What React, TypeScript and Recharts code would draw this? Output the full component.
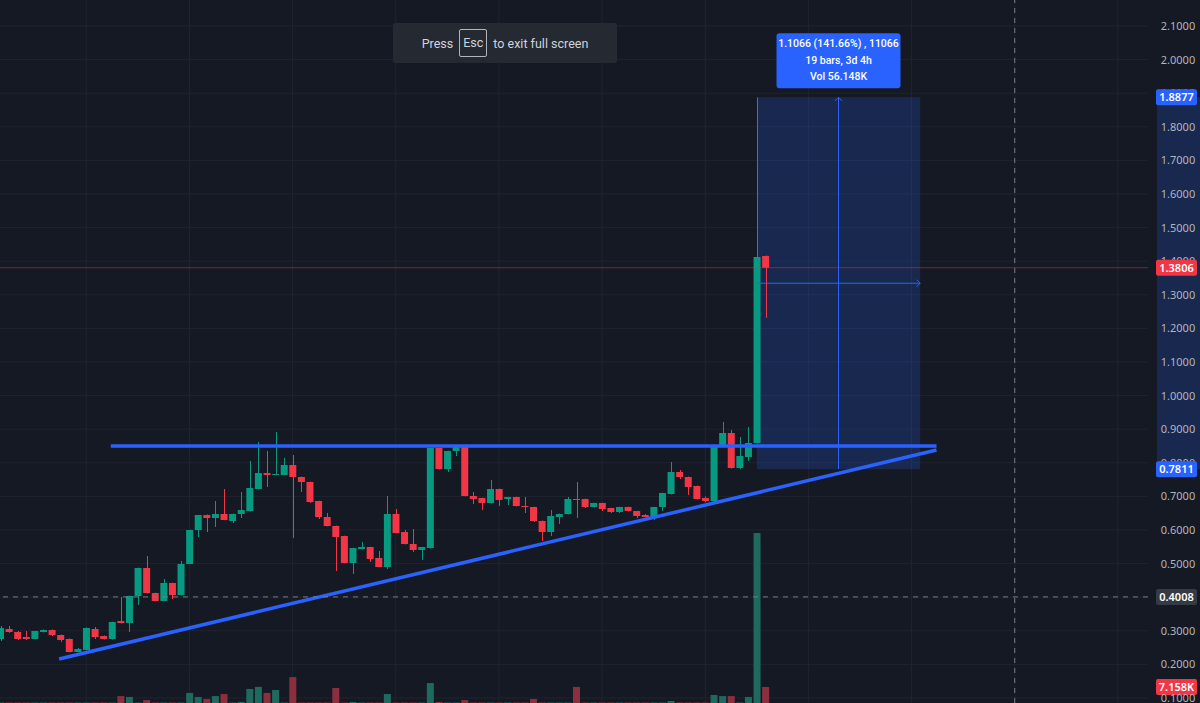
import React from 'react';
import { ComposedChart, Bar, XAxis, YAxis, CartesianGrid, ReferenceLine, ReferenceArea, Cell } from 'recharts';

// 4h candles, index 0..89
const opens = [
  0.2756, 0.3054, 0.2964, 0.2815, 0.2756, 0.2964, 0.3024, 0.2875, 0.2756, 0.2369,
  0.2429, 0.3054, 0.2845, 0.2756, 0.3292, 0.3232, 0.4036, 0.4869, 0.4125, 0.3887,
  0.4423, 0.4065, 0.4988, 0.6000, 0.6446, 0.6357, 0.6476, 0.6268, 0.6476, 0.6565,
  0.7220, 0.7696, 0.7637, 0.7637, 0.7935, 0.7577, 0.7429, 0.6863, 0.6387, 0.6119,
  0.5821, 0.5018, 0.5435, 0.5494, 0.5167, 0.4899, 0.6476, 0.5940, 0.5583, 0.5405,
  0.5464, 0.8440, 0.7815, 0.8351, 0.8530, 0.7012, 0.6952, 0.6804, 0.7220, 0.6923,
  0.6982, 0.6714, 0.6685, 0.6268, 0.5940, 0.6387, 0.6476, 0.6923, 0.6923, 0.6685,
  0.6804, 0.6655, 0.6536, 0.6685, 0.6565, 0.6446, 0.6387, 0.6685, 0.7071, 0.7726,
  0.7577, 0.7310, 0.6952, 0.6863, 0.8530, 0.8887, 0.7845, 0.8173, 0.8589, 1.4155,
];
const highs = [
  0.3143, 0.3143, 0.2994, 0.2994, 0.3000, 0.3040, 0.3040, 0.2890, 0.2770, 0.2488,
  0.3100, 0.3113, 0.2860, 0.3270, 0.4006, 0.4050, 0.4880, 0.5226, 0.4135, 0.4542,
  0.4430, 0.5077, 0.6010, 0.6450, 0.6460, 0.6863, 0.7220, 0.6490, 0.7131, 0.8054,
  0.8619, 0.8351, 0.8917, 0.8143, 0.8232, 0.7590, 0.7440, 0.6870, 0.6506, 0.6130,
  0.5830, 0.5470, 0.5643, 0.5500, 0.5375, 0.7012, 0.6625, 0.6000, 0.6030, 0.5500,
  0.8450, 0.8450, 0.8360, 0.8480, 0.8540, 0.7131, 0.6960, 0.7488, 0.7230, 0.6990,
  0.6990, 0.6982, 0.6690, 0.6280, 0.6595, 0.6490, 0.6982, 0.7429, 0.6930, 0.6810,
  0.6810, 0.6660, 0.6690, 0.6690, 0.6570, 0.6470, 0.6690, 0.7110, 0.8024, 0.7786,
  0.7590, 0.7320, 0.7000, 0.8540, 0.9214, 0.8976, 0.8768, 0.9065, 1.8877, 1.4170,
];
const lows = [
  0.2696, 0.2935, 0.2726, 0.2726, 0.2750, 0.2950, 0.2845, 0.2667, 0.2360, 0.2360,
  0.2420, 0.2756, 0.2740, 0.2740, 0.3220, 0.2964, 0.3768, 0.4110, 0.3880, 0.3880,
  0.3946, 0.4050, 0.4980, 0.5792, 0.5940, 0.6089, 0.6290, 0.6208, 0.6357, 0.6550,
  0.7210, 0.7280, 0.7630, 0.7630, 0.5762, 0.7131, 0.6804, 0.6327, 0.6110, 0.4780,
  0.5010, 0.4690, 0.5420, 0.5048, 0.4890, 0.4839, 0.5900, 0.5570, 0.5345, 0.5107,
  0.5450, 0.7800, 0.7726, 0.8202, 0.7000, 0.6774, 0.6595, 0.6790, 0.6714, 0.6744,
  0.6700, 0.6506, 0.6238, 0.5673, 0.5821, 0.6179, 0.6460, 0.6357, 0.6655, 0.6670,
  0.6565, 0.6506, 0.6506, 0.6550, 0.6357, 0.6380, 0.6298, 0.6565, 0.7060, 0.7518,
  0.7042, 0.6910, 0.6830, 0.6850, 0.8520, 0.7830, 0.7811, 0.8054, 0.8580, 1.2310,
];
const closes = [
  0.3083, 0.2964, 0.2756, 0.2756, 0.2994, 0.3024, 0.2875, 0.2726, 0.2369, 0.2458,
  0.3083, 0.2815, 0.2756, 0.3262, 0.3232, 0.4036, 0.4869, 0.4125, 0.3887, 0.4423,
  0.4065, 0.4988, 0.6000, 0.6446, 0.6357, 0.6476, 0.6298, 0.6476, 0.6595, 0.7250,
  0.7696, 0.7637, 0.7667, 0.7935, 0.7577, 0.7429, 0.6833, 0.6387, 0.6119, 0.5792,
  0.5018, 0.5464, 0.5494, 0.5137, 0.4899, 0.6476, 0.5911, 0.5583, 0.5405, 0.5494,
  0.8440, 0.7815, 0.8351, 0.8470, 0.7012, 0.6923, 0.6804, 0.7220, 0.6893, 0.6982,
  0.6714, 0.6685, 0.6268, 0.5940, 0.6417, 0.6476, 0.6923, 0.6893, 0.6685, 0.6804,
  0.6625, 0.6536, 0.6685, 0.6565, 0.6417, 0.6387, 0.6685, 0.7101, 0.7726, 0.7577,
  0.7280, 0.6923, 0.6863, 0.8530, 0.8887, 0.7845, 0.8202, 0.8589, 1.4125, 1.3806,
];
// volume in K
const volumes = [
  0.2, 0.2, 0.2, 0.2, 0.2, 0.2, 0.2, 0.2, 0.2, 0.2,
  0.2, 0.2, 0.2, 0.2, 3.1, 2.7, 0.2, 1.3, 0.2, 0.2,
  0.2, 0.2, 4.5, 2.7, 1.8, 3.1, 4.0, 0.2, 0.5, 6.3,
  7.2, 4.5, 5.8, 0.2, 11.6, 0.2, 0.2, 0.2, 0.2, 6.7,
  0.2, 0.5, 0.2, 0.2, 0.2, 4.0, 0.2, 0.2, 0.2, 0.2,
  8.9, 0.5, 0.2, 0.2, 1.3, 0.2, 0.2, 0.2, 0.2, 0.2,
  0.2, 0.2, 1.8, 0.2, 0.2, 0.2, 0.2, 7.2, 0.2, 0.2,
  0.2, 0.2, 0.2, 0.2, 0.2, 0.2, 0.2, 0.2, 0.9, 0.2,
  0.2, 0.2, 0.2, 3.6, 3.1, 3.1, 0.2, 2.7, 76.0, 7.158,
];

const priceTicks = [0.1, 0.2, 0.3, 0.4, 0.5, 0.6, 0.7, 0.8, 0.9, 1.0, 1.1, 1.2, 1.3, 1.4, 1.5, 1.6, 1.7, 1.8, 1.9, 2.0, 2.1];
// price tags drawn on the axis, on top of the plain tick labels
const tagValues = [1.8877, 1.3806, 0.7811, 0.4008];
const tagColors = ['#2962ff', '#f23645', '#2962ff', '#363a45'];
const gridBars = [10, 22, 34, 46, 58, 70, 82, 94, 106, 118, 130];

const SLOTS = 134;
const BG = '#151924';
const UP = '#089981';
const DOWN = '#f23645';
const BLUE = '#2962ff';
const FONT = '"Noto Sans", "DejaVu Sans", sans-serif';
const UI_FONT = 'Roboto, "Noto Sans", sans-serif';

const data = Array.from({ length: SLOTS }, (_, i) =>
  i < opens.length
    ? { i, o: opens[i], h: highs[i], l: lows[i], c: closes[i], range: [lows[i], highs[i]], vol: volumes[i] }
    : { i, o: null, h: null, l: null, c: null, range: null, vol: null }
);

function Candle(props: any) {
  const { x, y, width, height, payload } = props;
  if (!payload || payload.o == null) return null;
  const { o, h, l, c } = payload;
  const top = Math.min(y, y + height);
  const span = Math.abs(height);
  const k = h > l ? span / (h - l) : 0;
  const py = (v: number) => top + (h - v) * k;
  const color = c >= o ? UP : DOWN;
  const cx = Math.round(x + width / 2) + 0.5;
  const bTop = py(Math.max(o, c));
  const bH = Math.max(1, py(Math.min(o, c)) - bTop);
  return (
    <g>
      <line x1={cx} x2={cx} y1={top} y2={top + span} stroke={color} strokeWidth={1} />
      <rect x={x} y={bTop} width={width} height={bH} fill={color} />
    </g>
  );
}

const TagBox = ({ x, y, text, bg }: any) => (
  <g>
    <rect x={x + 8} y={y - 8} width={41} height={16} rx={2} fill={bg} />
    <text x={x + 28.5} y={y + 4} textAnchor="middle" fill="#ffffff" fontSize={11} fontWeight={600} fontFamily={FONT}>
      {text}
    </text>
  </g>
);

const PriceTick = (props: any) => {
  const { x, y, payload } = props;
  const v = Number(payload.value);
  const t = tagValues.indexOf(v);
  if (t >= 0) return <TagBox x={x} y={y} text={v.toFixed(4)} bg={tagColors[t]} />;
  return (
    <text x={x + 30} y={y + 4} textAnchor="middle" fill="#b2b5be" fontSize={11} fontFamily={FONT}>
      {v.toFixed(4)}
    </text>
  );
};

const volTag = (props: any) => {
  const vb = props.viewBox;
  if (!vb) return null;
  return <TagBox x={vb.x + vb.width} y={vb.y} text="7.158K" bg={DOWN} />;
};

const AxisBand = (props: any) => {
  const { x, y, width, height } = props;
  return <rect x={x + width + 9} y={y} width={50} height={height} fill={BLUE} fillOpacity={0.2} />;
};

const RangeInfo = (props: any) => {
  const vb = props.viewBox;
  if (!vb) return null;
  const cx = vb.x + vb.width / 2;
  const top = vb.y - 64;
  return (
    <g fontFamily={UI_FONT} fontSize={10.5} fill="#ffffff" fontWeight={500}>
      <rect x={cx - 62} y={top} width={124} height={55} rx={3} fill={BLUE} />
      <text x={cx} y={top + 14} textAnchor="middle">1.1066 (141.66%) , 11066</text>
      <text x={cx} y={top + 31} textAnchor="middle">19 bars, 3d 4h</text>
      <text x={cx} y={top + 47} textAnchor="middle">Vol 56.148K</text>
    </g>
  );
};

const Arrow = (props: any) => {
  const { x1, y1, x2, y2 } = props;
  const ang = Math.atan2(y2 - y1, x2 - x1);
  const a = 5;
  const p1x = x2 - a * Math.cos(ang - Math.PI / 4);
  const p1y = y2 - a * Math.sin(ang - Math.PI / 4);
  const p2x = x2 - a * Math.cos(ang + Math.PI / 4);
  const p2y = y2 - a * Math.sin(ang + Math.PI / 4);
  return (
    <g stroke={BLUE} strokeWidth={1} fill="none">
      <line x1={x1} y1={y1} x2={x2} y2={y2} />
      <polyline points={`${p1x},${p1y} ${x2},${y2} ${p2x},${p2y}`} />
    </g>
  );
};

export default function App() {
  return (
    <div style={{ position: 'fixed', left: 0, top: 0, width: 1200, height: 703, background: BG, overflow: 'hidden', fontFamily: FONT }}>
      <div style={{ position: 'absolute', left: -4, top: 0 }}>
        <ComposedChart width={1204} height={703} data={data} margin={{ top: 0, right: 0, bottom: 0, left: 0 }}>
          <CartesianGrid
            xAxisId="num"
            stroke="#20242f"
            verticalValues={gridBars}
            horizontalValues={priceTicks}
          />
          <XAxis dataKey="i" hide />
          <XAxis xAxisId="vcat" dataKey="i" hide />
          <XAxis
            xAxisId="num"
            dataKey="i"
            type="number"
            domain={[-0.5, SLOTS - 0.5]}
            ticks={gridBars}
            allowDataOverflow
            hide
          />
          <YAxis
            orientation="right"
            width={52}
            domain={[0.0851, 2.1774]}
            allowDataOverflow
            ticks={[...priceTicks, ...tagValues]}
            interval={0}
            tick={PriceTick}
            tickSize={0}
            tickMargin={0}
            axisLine={false}
            tickLine={false}
          />
          <YAxis yAxisId="vol" hide domain={[0, 314.3]} allowDataOverflow />

          <Bar xAxisId="vcat" yAxisId="vol" dataKey="vol" barSize={7} isAnimationActive={false}>
            {data.map((d, idx) => (
              <Cell key={idx} fill={d.c != null && d.c >= (d.o as number) ? '#1f6a5e' : '#8b2f3c'} />
            ))}
          </Bar>
          <Bar dataKey="range" barSize={7} shape={Candle} isAnimationActive={false} />

          <ReferenceArea y1={0.7811} y2={1.8877} shape={AxisBand} ifOverflow="visible" />
          <ReferenceArea
            xAxisId="num"
            x1={88}
            x2={107}
            y1={0.7811}
            y2={1.8877}
            fill={BLUE}
            fillOpacity={0.2}
            stroke="none"
            label={RangeInfo}
            ifOverflow="visible"
          />
          <ReferenceLine xAxisId="num" segment={[{ x: 97.5, y: 0.7811 }, { x: 97.5, y: 1.8877 }]} shape={Arrow} />
          <ReferenceLine xAxisId="num" segment={[{ x: 88, y: 1.3344 }, { x: 107, y: 1.3344 }]} shape={Arrow} />

          <ReferenceLine xAxisId="num" segment={[{ x: 12.85, y: 0.85 }, { x: 108.9, y: 0.85 }]} stroke={BLUE} strokeWidth={3.5} />
          <ReferenceLine xAxisId="num" segment={[{ x: 6.84, y: 0.2161 }, { x: 108.9, y: 0.8381 }]} stroke={BLUE} strokeWidth={3.5} />

          <ReferenceLine y={1.3806} stroke={DOWN} strokeOpacity={0.45} />
          <ReferenceLine y={0.4008} stroke="#787b86" strokeDasharray="5 5" />
          <ReferenceLine xAxisId="num" x={118} stroke="#787b86" strokeDasharray="5 5" />
          <ReferenceLine yAxisId="vol" y={7.158} stroke="none" strokeOpacity={0} label={volTag} />
        </ComposedChart>
      </div>

      <div
        style={{
          position: 'absolute',
          left: 393,
          top: 23,
          width: 224,
          height: 40,
          background: '#252932',
          borderRadius: 2,
          display: 'flex',
          alignItems: 'center',
          justifyContent: 'center',
          gap: 6,
          color: '#d1d4dc',
          fontSize: 12.5,
          fontFamily: UI_FONT,
        }}
      >
        <span>Press</span>
        <span style={{ border: '1px solid #b2b5be', borderRadius: 2, padding: '4px 3px', lineHeight: '18px' }}>Esc</span>
        <span>to exit full screen</span>
      </div>
    </div>
  );
}
